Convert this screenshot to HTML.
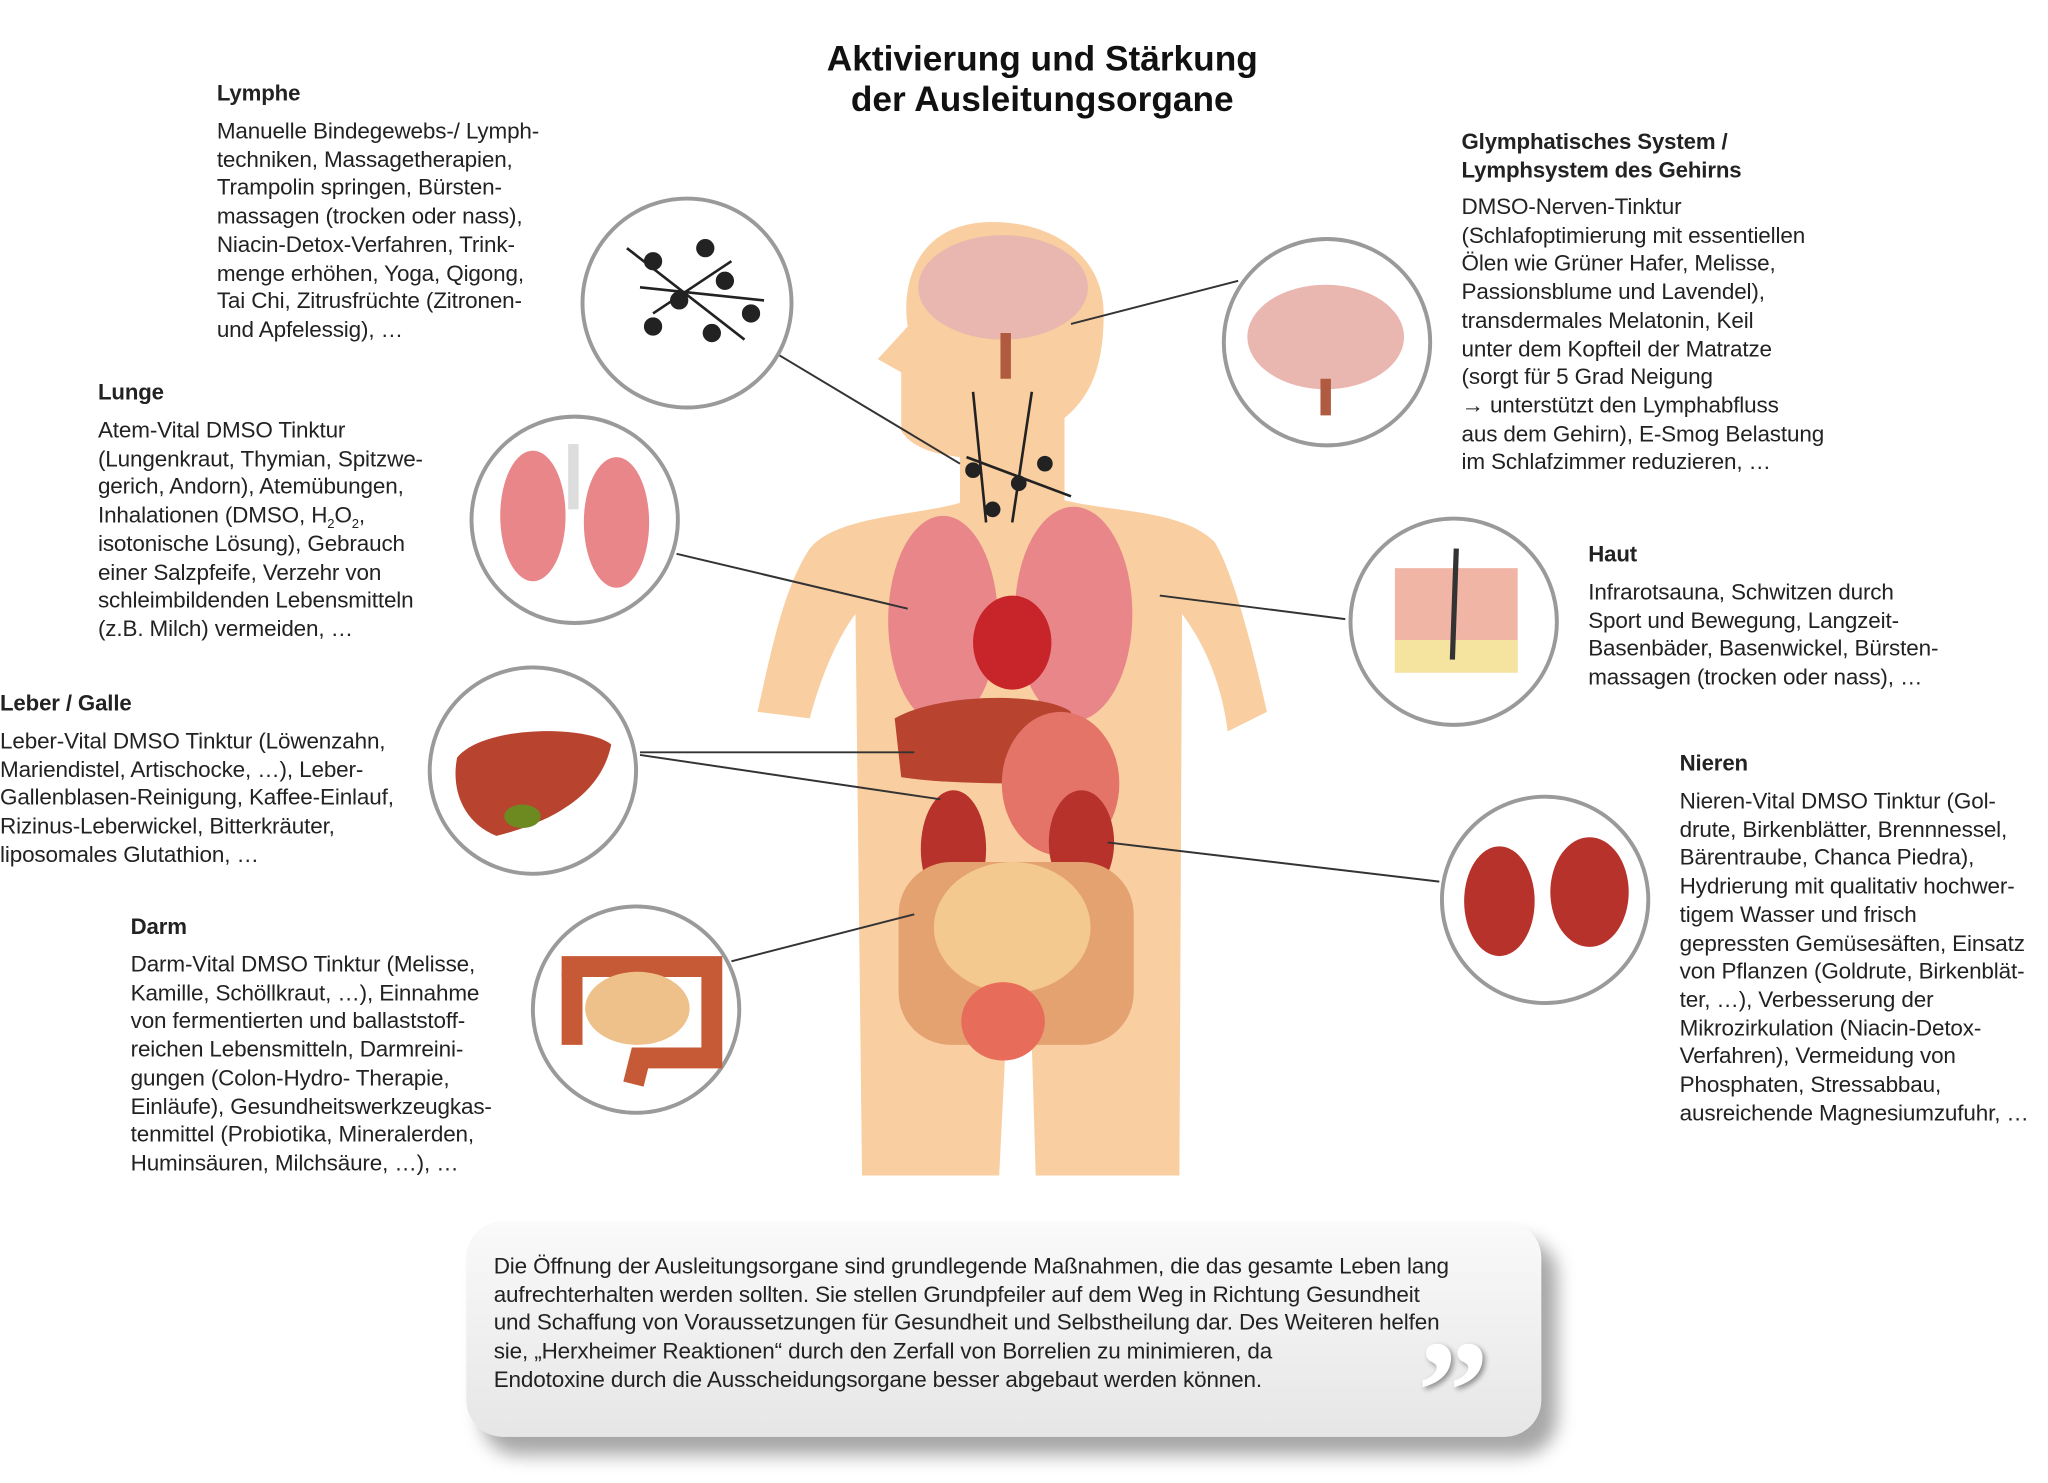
<!DOCTYPE html>
<html><head><meta charset="utf-8">
<style>
html,body{margin:0;padding:0;background:#fff;}
body{width:2048px;height:1483px;overflow:hidden;position:relative;}
#w{position:absolute;left:0;top:0;width:1568px;height:1135px;transform:scale(1.3061);transform-origin:0 0;font-family:"Liberation Sans",sans-serif;color:#222;}
.t{position:absolute;white-space:nowrap;font-size:17.2px;line-height:21.7px;letter-spacing:-0.1px;}
.t sub{font-size:10px;line-height:0;}
.h{font-weight:bold;font-size:17px;}
.title{position:absolute;left:548px;width:500px;top:30px;text-align:center;font-weight:bold;font-size:27px;line-height:31px;color:#111;}
.q{position:absolute;left:357px;top:935px;width:823px;height:165px;border-radius:28px;background:linear-gradient(#fafafa,#e6e6e6);box-shadow:12px 14px 14px rgba(0,0,0,0.35);}
</style></head><body><div id="w">
<svg width="1568" height="1135" style="position:absolute;left:0;top:0">
<path fill="#f9cea0" d="M760,170 C700,170 690,220 695,250 L672,275 L690,285 L690,330 C700,345 720,348 735,350 L735,385 C700,395 640,395 620,420 C600,450 590,500 580,545 L620,550 C628,520 640,490 655,470 L660,900 L765,900 L770,800 L790,800 L793,900 L903,900 L905,470 C920,490 935,520 940,560 L970,545 C960,500 945,440 930,415 C905,390 850,392 815,383 L815,320 C840,300 845,270 845,240 C845,195 805,170 760,170Z"/>
<ellipse cx="768" cy="220" rx="65" ry="40" fill="#e9b7b0"/>
<path d="M770,255 L770,290" stroke="#b05a40" stroke-width="8"/>
<g stroke="#222" stroke-width="2" fill="#222"><path d="M745,300 L755,400 M790,300 L775,400 M740,350 L820,380" fill="none"/><circle cx="745" cy="360" r="5"/><circle cx="780" cy="370" r="5"/><circle cx="760" cy="390" r="5"/><circle cx="800" cy="355" r="5"/></g>
<ellipse cx="722" cy="475" rx="42" ry="80" fill="#e8868a"/>
<ellipse cx="822" cy="470" rx="45" ry="82" fill="#e8868a"/>
<ellipse cx="775" cy="492" rx="30" ry="36" fill="#c8252a"/>
<path d="M685,550 C720,530 800,530 820,545 L810,600 C770,600 720,600 690,595Z" fill="#b8442f"/>
<ellipse cx="812" cy="600" rx="45" ry="55" fill="#e47468"/>
<ellipse cx="730" cy="650" rx="25" ry="45" fill="#b8322c"/>
<ellipse cx="828" cy="645" rx="25" ry="40" fill="#b8322c"/>
<rect x="688" y="660" width="180" height="140" rx="40" fill="#e4a271"/>
<ellipse cx="775" cy="710" rx="60" ry="50" fill="#f3c98f"/>
<ellipse cx="768" cy="782" rx="32" ry="30" fill="#e86c5a"/>
<g stroke="#333" stroke-width="1.5"><line x1="590" y1="268" x2="735" y2="355"/><line x1="518" y1="424" x2="695" y2="466"/><line x1="490" y1="576" x2="700" y2="576"/><line x1="490" y1="578" x2="720" y2="612"/><line x1="560" y1="736" x2="700" y2="700"/><line x1="948" y1="215" x2="820" y2="248"/><line x1="1030" y1="474" x2="888" y2="456"/><line x1="1102" y1="675" x2="848" y2="645"/></g>
<g fill="#fff" stroke="#9a9a9a" stroke-width="3">
<circle cx="526" cy="232" r="80"/><circle cx="440" cy="398" r="79"/><circle cx="408" cy="590" r="79"/><circle cx="487" cy="773" r="79"/><circle cx="1016" cy="262" r="79"/><circle cx="1113" cy="476" r="79"/><circle cx="1183" cy="689" r="79"/></g>
<g fill="#222" stroke="#222" stroke-width="2"><path d="M480,190 L570,260 M500,240 L560,200 M490,220 L585,230" fill="none"/><circle cx="500" cy="200" r="6"/><circle cx="540" cy="190" r="6"/><circle cx="520" cy="230" r="6"/><circle cx="555" cy="215" r="6"/><circle cx="500" cy="250" r="6"/><circle cx="545" cy="255" r="6"/><circle cx="575" cy="240" r="6"/></g>
<ellipse cx="408" cy="395" rx="25" ry="50" fill="#e8868a"/><ellipse cx="472" cy="400" rx="25" ry="50" fill="#e8868a"/><rect x="435" y="340" width="8" height="50" fill="#ddd"/>
<path d="M350,580 C370,555 450,555 468,570 C460,610 420,630 380,640 C355,630 345,605 350,580Z" fill="#b8442f"/><ellipse cx="400" cy="625" rx="14" ry="9" fill="#6d8a20"/>
<path d="M430,740 L545,740 L545,810 L490,810 L485,830" stroke="#c75a36" stroke-width="16" fill="none"/><path d="M438,745 L438,800" stroke="#c75a36" stroke-width="16"/><ellipse cx="488" cy="772" rx="40" ry="28" fill="#eec08a"/>
<ellipse cx="1015" cy="258" rx="60" ry="40" fill="#e9b7b0"/><path d="M1015,290 L1015,318" stroke="#b05a40" stroke-width="8"/>
<rect x="1068" y="435" width="94" height="80" fill="#f0b5a5"/><rect x="1068" y="490" width="94" height="25" fill="#f5e4a0"/><path d="M1115,420 L1112,505" stroke="#333" stroke-width="4"/>
<ellipse cx="1148" cy="690" rx="27" ry="42" fill="#b8322c"/><ellipse cx="1217" cy="683" rx="30" ry="42" fill="#b8322c"/>
</svg>
<div class="title">Aktivierung und Stärkung<br>der Ausleitungsorgane</div>

<div class="t h" style="left:166px;top:61px">Lymphe</div>
<div class="t" style="left:166px;top:90px">Manuelle Bindegewebs-/ Lymph-<br>techniken, Massagetherapien,<br>Trampolin springen, Bürsten-<br>massagen (trocken oder nass),<br>Niacin-Detox-Verfahren, Trink-<br>menge erhöhen, Yoga, Qigong,<br>Tai Chi, Zitrusfrüchte (Zitronen-<br>und Apfelessig), …</div>

<div class="t h" style="left:75px;top:290px">Lunge</div>
<div class="t" style="left:75px;top:319px">Atem-Vital DMSO Tinktur<br>(Lungenkraut, Thymian, Spitzwe-<br>gerich, Andorn), Atemübungen,<br>Inhalationen (DMSO, H<sub>2</sub>O<sub>2</sub>,<br>isotonische Lösung), Gebrauch<br>einer Salzpfeife, Verzehr von<br>schleimbildenden Lebensmitteln<br>(z.B. Milch) vermeiden, …</div>

<div class="t h" style="left:0px;top:528px">Leber / Galle</div>
<div class="t" style="left:0px;top:557px">Leber-Vital DMSO Tinktur (Löwenzahn,<br>Mariendistel, Artischocke, …), Leber-<br>Gallenblasen-Reinigung, Kaffee-Einlauf,<br>Rizinus-Leberwickel, Bitterkräuter,<br>liposomales Glutathion, …</div>

<div class="t h" style="left:100px;top:699px">Darm</div>
<div class="t" style="left:100px;top:728px">Darm-Vital DMSO Tinktur (Melisse,<br>Kamille, Schöllkraut, …), Einnahme<br>von fermentierten und ballaststoff-<br>reichen Lebensmitteln, Darmreini-<br>gungen (Colon-Hydro- Therapie,<br>Einläufe), Gesundheitswerkzeugkas-<br>tenmittel (Probiotika, Mineralerden,<br>Huminsäuren, Milchsäure, …), …</div>

<div class="t h" style="left:1119px;top:98px">Glymphatisches System /<br>Lymphsystem des Gehirns</div>
<div class="t" style="left:1119px;top:148px">DMSO-Nerven-Tinktur<br>(Schlafoptimierung mit essentiellen<br>Ölen wie Grüner Hafer, Melisse,<br>Passionsblume und Lavendel),<br>transdermales Melatonin, Keil<br>unter dem Kopfteil der Matratze<br>(sorgt für 5 Grad Neigung<br>→ unterstützt den Lymphabfluss<br>aus dem Gehirn), E-Smog Belastung<br>im Schlafzimmer reduzieren, …</div>

<div class="t h" style="left:1216px;top:414px">Haut</div>
<div class="t" style="left:1216px;top:443px">Infrarotsauna, Schwitzen durch<br>Sport und Bewegung, Langzeit-<br>Basenbäder, Basenwickel, Bürsten-<br>massagen (trocken oder nass), …</div>

<div class="t h" style="left:1286px;top:574px">Nieren</div>
<div class="t" style="left:1286px;top:603px">Nieren-Vital DMSO Tinktur (Gol-<br>drute, Birkenblätter, Brennnessel,<br>Bärentraube, Chanca Piedra),<br>Hydrierung mit qualitativ hochwer-<br>tigem Wasser und frisch<br>gepressten Gemüsesäften, Einsatz<br>von Pflanzen (Goldrute, Birkenblät-<br>ter, …), Verbesserung der<br>Mikrozirkulation (Niacin-Detox-<br>Verfahren), Vermeidung von<br>Phosphaten, Stressabbau,<br>ausreichende Magnesiumzufuhr, …</div>

<div class="q"></div>
<div class="t" style="left:378px;top:959px">Die Öffnung der Ausleitungsorgane sind grundlegende Maßnahmen, die das gesamte Leben lang<br>aufrechterhalten werden sollten. Sie stellen Grundpfeiler auf dem Weg in Richtung Gesundheit<br>und Schaffung von Voraussetzungen für Gesundheit und Selbstheilung dar. Des Weiteren helfen<br>sie, „Herxheimer Reaktionen“ durch den Zerfall von Borrelien zu minimieren, da<br>Endotoxine durch die Ausscheidungsorgane besser abgebaut werden können.</div>
<div style="position:absolute;left:1085px;top:1010px;font-family:'Liberation Serif',serif;font-weight:bold;font-size:110px;line-height:110px;color:#fff;text-shadow:2px 2px 4px rgba(0,0,0,0.4);">”</div>
</div></body></html>
